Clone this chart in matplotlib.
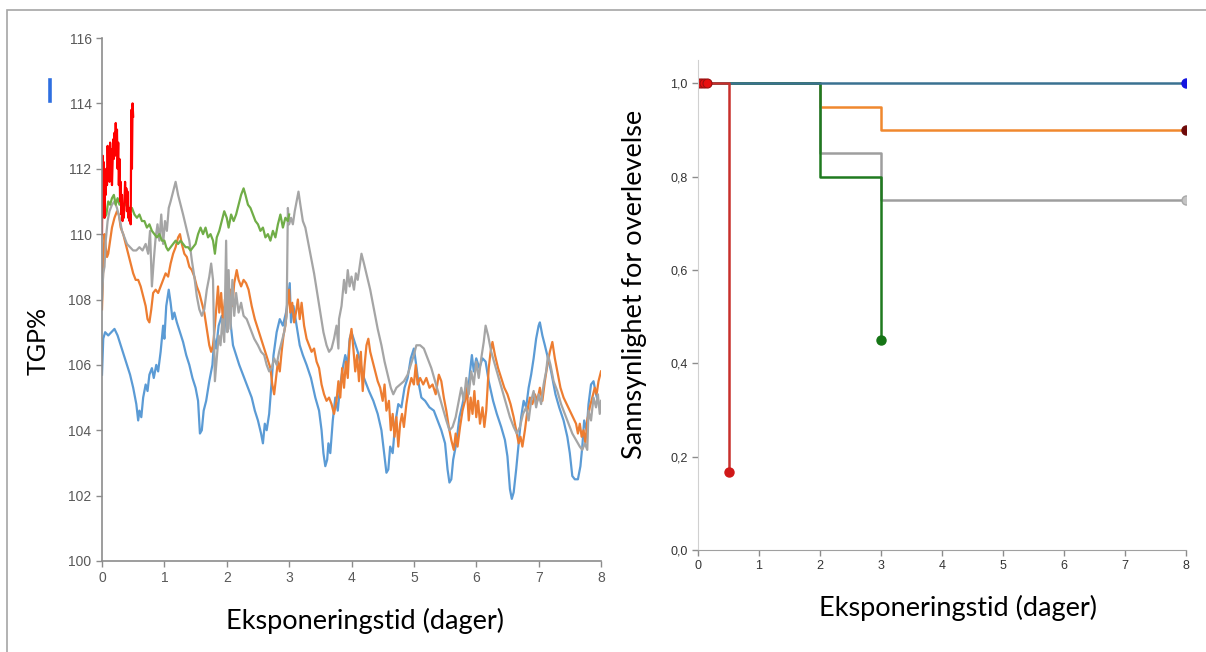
import matplotlib
matplotlib.use("Agg")
import matplotlib.pyplot as plt
from matplotlib.lines import Line2D
from matplotlib.patches import Rectangle
from matplotlib.ticker import FuncFormatter

# ---------------- TGP% time series (left panel) ----------------
blue_t = [0.00, 0.02, 0.05, 0.10, 0.15, 0.20, 0.25, 0.30, 0.35, 0.40, 0.45, 0.50, 0.55, 0.58, 0.60, 0.63, 0.66,
          0.70, 0.73, 0.76, 0.80, 0.83, 0.87, 0.90, 0.94, 0.98, 1.00, 1.03, 1.07, 1.10, 1.13, 1.16, 1.20, 1.25,
          1.30, 1.35, 1.40, 1.45, 1.50, 1.54, 1.57, 1.60, 1.63, 1.67, 1.72, 1.77, 1.80, 1.83, 1.87, 1.92, 1.96,
          2.00, 2.03, 2.06, 2.10, 2.15, 2.20, 2.30, 2.40, 2.45, 2.50, 2.55, 2.58, 2.61, 2.64, 2.68, 2.72, 2.75,
          2.80, 2.85, 2.90, 2.95, 2.98, 3.01, 3.03, 3.07, 3.12, 3.17, 3.22, 3.28, 3.35, 3.42, 3.48, 3.52, 3.55,
          3.58, 3.61, 3.63, 3.66, 3.70, 3.74, 3.78, 3.82, 3.86, 3.90, 3.94, 3.97, 4.00, 4.05, 4.10, 4.15, 4.20,
          4.28, 4.35, 4.42, 4.48, 4.53, 4.56, 4.59, 4.62, 4.66, 4.70, 4.75, 4.80, 4.85, 4.90, 4.95, 5.00, 5.03,
          5.07, 5.12, 5.18, 5.25, 5.32, 5.38, 5.44, 5.50, 5.54, 5.57, 5.60, 5.63, 5.68, 5.73, 5.78, 5.82, 5.86,
          5.90, 5.93, 5.96, 6.00, 6.05, 6.10, 6.15, 6.20, 6.27, 6.33, 6.40, 6.46, 6.50, 6.54, 6.57, 6.60, 6.64,
          6.68, 6.72, 6.76, 6.80, 6.84, 6.88, 6.92, 6.96, 7.00, 7.02, 7.06, 7.10, 7.15, 7.20, 7.27, 7.33, 7.40,
          7.46, 7.50, 7.54, 7.58, 7.63, 7.67, 7.70, 7.73, 7.77, 7.80, 7.84, 7.88, 7.92, 7.95]
blue_v = [105.7, 106.8, 107.0, 106.9, 107.0, 107.1, 106.9, 106.6, 106.3, 106.0, 105.7, 105.3, 104.8, 104.3, 104.6,
          104.4, 105.0, 105.4, 105.2, 105.7, 105.9, 105.6, 106.0, 105.8, 106.4, 107.2, 106.8, 107.8, 108.3, 107.9,
          107.4, 107.6, 107.3, 107.0, 106.7, 106.3, 106.0, 105.6, 105.3, 104.9, 103.9, 104.0, 104.6, 104.9, 105.5,
          106.0, 106.8, 106.5, 107.2, 107.5, 107.0, 107.8, 108.0, 107.3, 106.6, 106.3, 106.0, 105.5, 105.0, 104.6,
          104.3, 103.9, 103.6, 104.2, 104.0, 104.5, 105.5, 106.3, 107.0, 107.4, 107.2, 107.6, 108.0, 108.5, 107.3,
          107.8, 107.2, 106.6, 106.3, 106.0, 105.6, 105.0, 104.6, 104.0, 103.3, 102.9, 103.1, 103.6, 103.3, 104.3,
          105.0, 104.6, 105.4, 105.9, 106.3, 106.0, 106.8, 107.0, 106.7, 106.4, 106.0, 105.6, 105.2, 104.9, 104.5,
          104.0, 103.2, 102.7, 102.8, 103.5, 103.3, 104.2, 104.8, 104.7, 105.3, 105.6, 106.2, 106.5, 106.1, 105.5,
          105.0, 104.9, 104.7, 104.6, 104.3, 104.0, 103.6, 102.8, 102.4, 102.5, 103.1, 103.6, 104.4, 104.8, 105.2,
          105.0, 105.8, 106.3, 105.8, 106.2, 105.9, 106.2, 106.1, 105.5, 104.9, 104.5, 104.1, 103.7, 103.2, 102.2,
          101.9, 102.1, 102.8, 103.6, 104.4, 104.9, 104.7, 105.3, 105.7, 106.2, 106.8, 107.2, 107.3, 106.9, 106.6,
          106.2, 105.8, 105.1, 104.7, 104.3, 103.8, 103.3, 102.6, 102.5, 102.5, 102.9, 103.5, 104.3, 104.0, 104.8,
          105.4, 105.5, 105.1, 104.9]

orange_t = [0.00, 0.02, 0.04, 0.06, 0.08, 0.10, 0.13, 0.16, 0.20, 0.24, 0.27, 0.30, 0.34, 0.38, 0.42, 0.46, 0.50,
            0.54, 0.58, 0.62, 0.66, 0.70, 0.73, 0.76, 0.79, 0.82, 0.86, 0.90, 0.94, 0.98, 1.02, 1.06, 1.10, 1.14,
            1.18, 1.22, 1.25, 1.28, 1.32, 1.36, 1.40, 1.44, 1.48, 1.52, 1.56, 1.60, 1.64, 1.68, 1.72, 1.75, 1.78,
            1.81, 1.84, 1.86, 1.88, 1.91, 1.94, 1.97, 2.00, 2.03, 2.06, 2.09, 2.12, 2.16, 2.19, 2.23, 2.27, 2.31,
            2.35, 2.40, 2.45, 2.50, 2.55, 2.60, 2.65, 2.70, 2.73, 2.76, 2.79, 2.82, 2.85, 2.88, 2.91, 2.94, 2.97,
            3.00, 3.02, 3.05, 3.08, 3.11, 3.14, 3.17, 3.20, 3.24, 3.28, 3.32, 3.36, 3.40, 3.44, 3.48, 3.52, 3.56,
            3.60, 3.64, 3.68, 3.72, 3.76, 3.79, 3.82, 3.85, 3.88, 3.91, 3.94, 3.97, 4.00, 4.03, 4.06, 4.09, 4.12,
            4.15, 4.18, 4.21, 4.24, 4.27, 4.30, 4.34, 4.38, 4.42, 4.46, 4.50, 4.53, 4.56, 4.60, 4.63, 4.66, 4.69,
            4.72, 4.75, 4.78, 4.81, 4.84, 4.88, 4.92, 4.96, 5.00, 5.03, 5.06, 5.10, 5.15, 5.20, 5.25, 5.30, 5.35,
            5.40, 5.44, 5.48, 5.52, 5.56, 5.60, 5.64, 5.67, 5.70, 5.74, 5.78, 5.82, 5.85, 5.88, 5.91, 5.94, 5.97,
            6.00, 6.03, 6.06, 6.10, 6.13, 6.16, 6.20, 6.23, 6.26, 6.30, 6.35, 6.40, 6.45, 6.50, 6.55, 6.60, 6.64,
            6.68, 6.71, 6.74, 6.78, 6.82, 6.86, 6.90, 6.94, 6.98, 7.02, 7.06, 7.10, 7.14, 7.18, 7.22, 7.26, 7.30,
            7.35, 7.40, 7.45, 7.50, 7.55, 7.60, 7.63, 7.66, 7.69, 7.72, 7.75, 7.78, 7.82, 7.86, 7.90, 7.93, 7.96,
            8.00]
orange_v = [107.7, 109.0, 110.0, 109.6, 109.3, 109.4, 109.8, 110.2, 110.5, 110.7, 110.6, 110.2, 110.0, 109.7, 109.4,
            109.1, 108.8, 108.6, 108.6, 108.4, 108.1, 107.8, 107.4, 107.3, 107.7, 108.2, 108.3, 108.2, 108.4, 108.6,
            108.8, 108.7, 109.1, 109.4, 109.6, 109.9, 110.0, 109.7, 109.4, 109.3, 109.0, 108.9, 108.7, 108.4, 108.2,
            107.9, 107.6, 107.1, 106.6, 106.4, 106.6, 107.2, 107.9, 108.4, 107.6, 108.2, 107.3, 108.0, 107.6, 107.9,
            108.3, 107.8, 108.5, 108.9, 108.6, 108.4, 108.6, 108.5, 108.3, 107.8, 107.4, 107.1, 106.8, 106.5, 106.2,
            105.9, 105.4, 105.1, 105.6, 106.1, 105.8, 106.4, 106.9, 107.2, 107.8, 108.3, 107.6, 107.9, 107.3, 107.6,
            108.0, 107.4, 107.9, 107.2, 106.8, 106.6, 106.4, 106.5, 106.1, 105.9, 105.4, 105.1, 104.9, 105.0, 104.8,
            104.5, 104.9, 105.5, 105.0, 105.9, 105.3, 106.1, 105.6, 106.7, 107.1, 106.5, 105.8, 106.3, 105.5, 106.4,
            105.2, 106.0, 106.6, 106.8, 106.4, 106.1, 105.8, 105.5, 105.3, 104.9, 105.4, 104.6, 104.9, 104.0, 104.5,
            103.8, 104.4, 103.5, 104.2, 104.5, 104.1, 104.8, 105.3, 105.6, 105.4, 106.0, 105.4, 105.6, 105.4, 105.6,
            105.3, 105.4, 105.1, 105.7, 105.5, 105.0, 104.6, 104.1, 103.7, 103.4, 103.9, 103.5, 104.1, 104.6, 104.9,
            105.3, 104.3, 105.0, 104.5, 105.2, 104.4, 104.9, 104.2, 104.7, 104.1, 104.6, 105.9, 106.4, 106.7, 106.3,
            105.9, 105.6, 105.3, 105.1, 104.8, 104.4, 104.0, 103.6, 103.8, 103.5, 104.0, 104.6, 105.0, 104.8, 105.1,
            104.9, 105.3, 104.9, 105.5, 106.0, 106.4, 106.7, 106.2, 105.8, 105.3, 105.0, 104.8, 104.6, 104.4, 104.2,
            103.9, 104.2, 103.8, 104.0, 103.6, 104.3, 104.7, 105.0, 105.3, 105.1, 105.5, 105.8]

gray_t = [0.00, 0.02, 0.04, 0.06, 0.09, 0.12, 0.16, 0.20, 0.24, 0.28, 0.32, 0.36, 0.40, 0.45, 0.50, 0.55, 0.60,
          0.65, 0.70, 0.74, 0.77, 0.80, 0.83, 0.86, 0.89, 0.92, 0.95, 0.98, 1.01, 1.04, 1.07, 1.10, 1.14, 1.18,
          1.22, 1.26, 1.30, 1.35, 1.40, 1.44, 1.48, 1.52, 1.56, 1.60, 1.64, 1.68, 1.72, 1.75, 1.78, 1.81, 1.84,
          1.87, 1.90, 1.93, 1.96, 1.99, 2.01, 2.03, 2.06, 2.09, 2.12, 2.15, 2.19, 2.23, 2.27, 2.32, 2.38, 2.44,
          2.50, 2.55, 2.60, 2.64, 2.68, 2.72, 2.76, 2.80, 2.84, 2.88, 2.92, 2.96, 2.98, 3.00, 3.03, 3.06, 3.09,
          3.12, 3.15, 3.18, 3.22, 3.26, 3.30, 3.35, 3.40, 3.45, 3.50, 3.55, 3.60, 3.64, 3.68, 3.72, 3.76, 3.79,
          3.80, 3.84, 3.88, 3.91, 3.94, 3.97, 4.00, 4.04, 4.07, 4.10, 4.13, 4.16, 4.20, 4.25, 4.30, 4.36, 4.42,
          4.48, 4.53, 4.58, 4.63, 4.67, 4.72, 4.78, 4.84, 4.90, 4.95, 5.00, 5.04, 5.10, 5.16, 5.22, 5.28, 5.34,
          5.40, 5.46, 5.52, 5.57, 5.62, 5.67, 5.72, 5.76, 5.80, 5.84, 5.88, 5.92, 5.96, 6.00, 6.04, 6.08, 6.12,
          6.15, 6.19, 6.24, 6.30, 6.36, 6.42, 6.48, 6.54, 6.60, 6.65, 6.70, 6.75, 6.80, 6.84, 6.88, 6.92, 6.96,
          7.00, 7.04, 7.08, 7.12, 7.15, 7.19, 7.24, 7.30, 7.36, 7.42, 7.48, 7.54, 7.60, 7.66, 7.70, 7.74, 7.78,
          7.80, 7.84, 7.88, 7.92, 7.95, 7.98, 8.00]
gray_v = [108.0, 108.8, 109.0, 109.8, 110.4, 110.7, 110.9, 111.0, 110.8, 110.5, 110.1, 109.9, 109.7, 109.6, 109.5,
          109.5, 109.6, 109.5, 109.7, 109.4, 110.1, 108.4, 109.2, 109.9, 110.3, 109.8, 110.6, 109.7, 110.4, 110.1,
          110.8, 111.0, 111.3, 111.6, 111.2, 110.9, 110.6, 110.2, 109.8, 109.2, 108.7, 108.1, 107.7, 107.5, 107.7,
          108.3, 108.7, 109.1, 108.6, 105.5, 106.2, 106.9, 106.6, 107.4, 106.7, 109.8, 107.0, 108.9, 107.1, 108.6,
          107.5, 108.2, 107.6, 107.9, 107.5, 107.4, 107.1, 106.8, 106.6, 106.4, 106.3, 106.0, 105.8, 105.9, 106.2,
          106.0, 106.4, 106.7, 107.0, 107.5, 110.8, 110.3, 110.5, 110.3, 110.7, 111.0, 111.3, 110.9, 110.4, 110.2,
          109.8, 109.3, 108.8, 108.2, 107.6, 107.0, 106.6, 106.4, 106.5, 106.8, 107.2, 106.5, 107.4, 107.8, 108.6,
          108.2, 108.9, 108.4, 108.7, 108.3, 108.8, 108.6, 109.0, 109.4, 109.1, 108.7, 108.3, 107.7, 107.1, 106.6,
          106.1, 105.7, 105.3, 105.1, 105.3, 105.4, 105.5, 105.7, 106.0, 106.3, 106.6, 106.6, 106.5, 106.2, 105.9,
          105.5, 105.1, 104.7, 104.3, 104.0, 104.1, 104.4, 104.9, 105.3, 104.9, 105.6, 105.1, 105.8, 105.4, 106.1,
          105.6, 106.2, 106.7, 107.2, 106.9, 106.4, 106.0, 105.6, 105.2, 104.8, 104.4, 104.1, 103.9, 104.1, 104.5,
          104.7, 104.3, 104.9, 105.2, 104.7, 105.1, 104.8, 105.4, 105.8, 106.3, 106.0, 105.5, 105.2, 104.8, 104.5,
          104.2, 103.9, 103.7, 103.5, 103.4, 103.6, 103.4, 104.6, 104.3, 105.0, 104.7, 105.1, 104.5, 104.9]

green_t = [0.00, 0.02, 0.04, 0.07, 0.10, 0.13, 0.16, 0.19, 0.22, 0.25, 0.28, 0.31, 0.34, 0.37, 0.40, 0.44, 0.48,
           0.52, 0.56, 0.60, 0.64, 0.68, 0.72, 0.76, 0.80, 0.84, 0.88, 0.92, 0.96, 1.00, 1.03, 1.06, 1.10, 1.14,
           1.18, 1.22, 1.26, 1.30, 1.34, 1.38, 1.42, 1.46, 1.50, 1.54, 1.58, 1.62, 1.66, 1.70, 1.74, 1.78, 1.81,
           1.84, 1.88, 1.92, 1.96, 2.00, 2.03, 2.07, 2.11, 2.15, 2.19, 2.23, 2.27, 2.30, 2.34, 2.38, 2.42, 2.46,
           2.50, 2.54, 2.58, 2.62, 2.66, 2.70, 2.74, 2.78, 2.82, 2.86, 2.90, 2.94, 2.98, 3.00]
green_v = [111.4, 110.9, 110.5, 110.6, 111.0, 110.9, 111.1, 111.2, 110.9, 111.1, 110.9, 111.0, 110.8, 110.9, 111.0,
           110.7, 110.8, 110.6, 110.5, 110.6, 110.4, 110.4, 110.2, 110.3, 110.1, 110.0, 109.9, 110.0, 109.8, 109.8,
           109.6, 109.5, 109.6, 109.7, 109.8, 109.7, 109.8, 109.7, 109.6, 109.6, 109.5, 109.6, 109.7, 110.0, 110.2,
           110.0, 110.2, 109.9, 110.0, 109.8, 109.4, 109.9, 110.1, 110.4, 110.7, 110.5, 110.2, 110.6, 110.4, 110.6,
           110.9, 111.2, 111.4, 111.2, 110.9, 110.8, 110.6, 110.4, 110.3, 110.1, 110.2, 109.9, 110.0, 109.8, 110.1,
           109.9, 110.3, 110.6, 110.2, 110.5, 110.4, 110.6]

red_t = [0.00, 0.01, 0.02, 0.03, 0.04, 0.05, 0.06, 0.07, 0.08, 0.09, 0.10, 0.11, 0.12, 0.13, 0.14, 0.15, 0.16,
         0.17, 0.18, 0.19, 0.20, 0.21, 0.22, 0.23, 0.24, 0.25, 0.26, 0.27, 0.28, 0.29, 0.30, 0.31, 0.32, 0.33,
         0.34, 0.35, 0.36, 0.37, 0.38, 0.39, 0.40, 0.41, 0.42, 0.43, 0.44, 0.45, 0.46, 0.47, 0.48, 0.49, 0.50]
red_v = [110.0, 112.4, 111.0, 112.2, 110.5, 111.8, 111.2, 112.0, 111.5, 112.7, 111.8, 112.5, 111.6, 112.8, 112.0,
         112.6, 111.5, 112.2, 112.9, 112.3, 113.1, 112.4, 113.4, 112.5, 113.2, 112.0, 112.8, 111.5, 112.3, 111.0,
         111.6, 110.6, 111.2, 110.4, 110.9, 110.5, 111.0, 111.6, 111.0, 111.4, 110.7, 111.3, 110.5, 110.8, 110.4,
         110.6, 110.3, 113.8, 112.0, 114.0, 113.6]

tgp_yticks = [100, 102, 104, 106, 108, 110, 112, 114, 116]
day_ticks = [0, 1, 2, 3, 4, 5, 6, 7, 8]

# ---------------- Survival curves (right panel) ----------------
km_blue_t, km_blue_s = [0, 8], [1.0, 1.0]
km_red_t, km_red_s = [0, 0.5], [1.0, 0.167]
km_red_censor_t = [0.0, 0.05, 0.10, 0.15]
km_orange_t, km_orange_s = [0, 2, 3, 8], [1.0, 0.95, 0.90, 0.90]
km_gray_t, km_gray_s = [0, 2, 3, 8], [1.0, 0.85, 0.75, 0.75]
km_green_t, km_green_s = [0, 2, 3], [1.0, 0.80, 0.45]
surv_yticks = [0.0, 0.2, 0.4, 0.6, 0.8, 1.0]

TICK_FONT = "Liberation Sans"
LABEL_FONT = "Lato"
LABEL_SIZE = 19.5

fig = plt.figure(figsize=(12.06, 6.52), dpi=100)

# outer frame
fig.patches.append(Rectangle((7 / 1206, -0.1), 1.2, 1.1 - 10 / 652, transform=fig.transFigure,
                             fill=False, edgecolor="#a6a6a6", linewidth=1.2))

# ---- left panel ----
ax1 = fig.add_axes([102 / 1206, 1 - 561 / 652, 499 / 1206, 523 / 652])
lw = 1.6
ax1.plot(blue_t, blue_v, color="#5b9bd5", lw=lw)
ax1.plot(orange_t, orange_v, color="#ed7d31", lw=lw)
ax1.plot(gray_t, gray_v, color="#a5a5a5", lw=lw)
ax1.plot(green_t, green_v, color="#70ad47", lw=lw)
ax1.plot(red_t, red_v, color="#ff0000", lw=lw)
ax1.set_xlim(0, 8)
ax1.set_ylim(100, 116)
ax1.set_xticks(day_ticks)
ax1.set_yticks(tgp_yticks)
for s in ("top", "right"):
    ax1.spines[s].set_visible(False)
for s in ("left", "bottom"):
    ax1.spines[s].set_color("#8c8c8c")
    ax1.spines[s].set_linewidth(1.2)
ax1.tick_params(axis="both", colors="#8c8c8c", length=4, width=1, labelcolor="#595959")
for lab in ax1.get_xticklabels() + ax1.get_yticklabels():
    lab.set_fontfamily(TICK_FONT)
    lab.set_fontsize(10)
ax1.set_ylabel("TGP%", fontfamily=LABEL_FONT, fontsize=18)
ax1.yaxis.set_label_coords(-0.105, 0.42)
ax1.set_xlabel("Eksponeringstid (dager)", fontfamily=LABEL_FONT, fontsize=LABEL_SIZE, labelpad=16)
ax1.xaxis.label.set_x(0.528)

# small blue mark at upper left
fig.add_artist(Line2D([50 / 1206, 50 / 1206], [1 - 80 / 652, 1 - 101 / 652],
                      transform=fig.transFigure, color="#2f6fe0", lw=2.6))

# ---- right panel ----
ax2 = fig.add_axes([698 / 1206, 1 - 550 / 652, 488 / 1206, 490 / 652])
klw = 1.8
ax2.plot(km_orange_t, km_orange_s, color="#f0882e", lw=klw, drawstyle="steps-post")
ax2.plot(km_gray_t, km_gray_s, color="#9e9e9e", lw=klw, drawstyle="steps-post")
ax2.plot(km_green_t, km_green_s, color="#1f7a1f", lw=klw, drawstyle="steps-post")
ax2.plot(km_blue_t, km_blue_s, color="#3a7191", lw=klw, drawstyle="steps-post")
ax2.plot(km_red_t, km_red_s, color="#c8302c", lw=klw, drawstyle="steps-post")
ms = 6.5
ax2.plot([km_blue_t[-1]], [km_blue_s[-1]], "o", color="#1515e0", ms=ms)
ax2.plot([km_orange_t[-1]], [km_orange_s[-1]], "o", color="#6e0a0a", ms=ms)
ax2.plot([km_gray_t[-1]], [km_gray_s[-1]], "o", color="#c4c4c4", mec="#a8a8a8", ms=ms)
ax2.plot([km_green_t[-1]], [km_green_s[-1]], "o", color="#157515", ms=ms)
ax2.plot([km_red_t[-1]], [km_red_s[-1]], "o", color="#d01818", ms=ms)
ax2.plot(km_red_censor_t, [1.0] * len(km_red_censor_t), "o", color="#e81010", mec="#9a1010",
         ms=ms, mew=0.8)
ax2.set_xlim(0, 8)
ax2.set_ylim(0, 1.05)
ax2.set_xticks(day_ticks)
ax2.set_yticks(surv_yticks)
ax2.yaxis.set_major_formatter(FuncFormatter(lambda v, p: f"{v:.1f}".replace(".", ",")))
for s in ("top", "right"):
    ax2.spines[s].set_visible(False)
ax2.spines["left"].set_color("#d0d0d0")
ax2.spines["bottom"].set_color("#a0a0a0")
ax2.tick_params(axis="both", colors="#8c8c8c", length=4, width=1, labelcolor="#333333")
for lab in ax2.get_xticklabels() + ax2.get_yticklabels():
    lab.set_fontfamily(TICK_FONT)
    lab.set_fontsize(9)
ax2.set_ylabel("Sannsynlighet for overlevelse", fontfamily=LABEL_FONT, fontsize=LABEL_SIZE)
ax2.yaxis.set_label_coords(-0.104, 0.541)
ax2.set_xlabel("Eksponeringstid (dager)", fontfamily=LABEL_FONT, fontsize=LABEL_SIZE, labelpad=16)
ax2.xaxis.label.set_x(0.533)

fig.savefig("out.png", dpi=100)
